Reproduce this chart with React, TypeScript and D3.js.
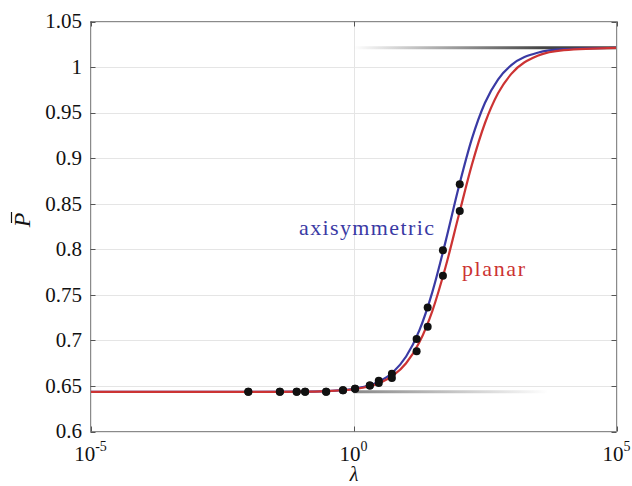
import React from "react";
import * as d3 from "d3";

const WIDTH = 632;
const HEIGHT = 486;

// Axis ticks
const yTickValues = [0.6, 0.65, 0.7, 0.75, 0.8, 0.85, 0.9, 0.95, 1, 1.05];
const yTickLabels = ["0.6", "0.65", "0.7", "0.75", "0.8", "0.85", "0.9", "0.95", "1", "1.05"];
const xTickExponents = [-5, 0, 5];

// Model curves, sampled in log10(lambda)
const curveLogLambda = [-5, -2, -1, -0.5, 0, 0.25, 0.5, 0.75, 1, 1.25, 1.5, 1.75, 2, 2.25, 2.5, 2.75, 3, 3.5, 4, 5];
const axisymmetricCurve = [
  0.6435, 0.6435, 0.6438, 0.6444, 0.6468, 0.6498, 0.6552, 0.6651, 0.6823, 0.7107,
  0.7533, 0.8084, 0.868, 0.9211, 0.9608, 0.9866, 1.0021, 1.0157, 1.0196, 1.0212,
];
const planarCurve = [
  0.6435, 0.6435, 0.6437, 0.6444, 0.6464, 0.6489, 0.6533, 0.6612, 0.6749, 0.6976,
  0.7325, 0.7805, 0.837, 0.8926, 0.9386, 0.9715, 0.9925, 1.0123, 1.0186, 1.0211,
];

// Simulation samples
const sampleLogLambda = [-2.0, -1.4, -1.08, -0.92, -0.52, -0.2, 0.03, 0.31, 0.48, 0.73, 1.2, 1.41, 1.7, 2.02];
const axisymmetricSamples = [
  0.6435, 0.6435, 0.6435, 0.6435, 0.6435, 0.6452, 0.647, 0.6504, 0.6558, 0.6635, 0.7015, 0.736, 0.799, 0.8715,
];
const planarSamples = [
  0.6435, 0.6435, 0.6435, 0.6435, 0.6435, 0.6452, 0.647, 0.6504, 0.6533, 0.6588, 0.688, 0.715, 0.771, 0.842,
];

// Asymptotic limits
const upperLimit = 1.0212;
const lowerLimit = 0.6435;

const BLUE = "#3a3aa4";
const RED = "#cc3333";
const textStyle = { fontFamily: "Liberation Serif" };

export default function App() {
  const left = 90.5;
  const right = 616.5;
  const top = 21.5;
  const bottom = 431.5;

  const x = d3.scaleLog().domain([1e-5, 1e5]).range([left, right]);
  const y = d3.scaleLinear().domain([0.6, 1.05]).range([bottom, top]);

  const line = d3
    .line<[number, number]>()
    .x((d) => x(Math.pow(10, d[0])))
    .y((d) => y(d[1]))
    .curve(d3.curveMonotoneX);

  const blueData = curveLogLambda.map((l, i) => [l, axisymmetricCurve[i]] as [number, number]);
  const redData = curveLogLambda.map((l, i) => [l, planarCurve[i]] as [number, number]);

  const dots: { l: number; v: number }[] = [];
  sampleLogLambda.forEach((l, i) => {
    dots.push({ l, v: axisymmetricSamples[i] });
    dots.push({ l, v: planarSamples[i] });
  });

  const tickLen = 5;
  const axisColor = "#8a8a8a";
  const gridColor = "#e5e5e5";

  return (
    <svg
      width={WIDTH}
      height={HEIGHT}
      style={{ position: "absolute", left: 0, top: 0, background: "#fff" }}
    >
      <defs>
        <linearGradient id="upperFade" gradientUnits="userSpaceOnUse" x1={x(1)} x2={x(Math.pow(10, 3.6))} y1={0} y2={0}>
          <stop offset="0" stopColor="#444" stopOpacity={0} />
          <stop offset="1" stopColor="#444" stopOpacity={1} />
        </linearGradient>
        <linearGradient id="lowerFade" gradientUnits="userSpaceOnUse" x1={x(1)} x2={x(Math.pow(10, 3.7))} y1={0} y2={0}>
          <stop offset="0" stopColor="#888" stopOpacity={1} />
          <stop offset="1" stopColor="#888" stopOpacity={0} />
        </linearGradient>
      </defs>

      {/* grid */}
      {yTickValues.map((v) => (
        <line key={"gy" + v} x1={left} x2={right} y1={Math.round(y(v)) + 0.5} y2={Math.round(y(v)) + 0.5} stroke={gridColor} strokeWidth={1} />
      ))}
      {xTickExponents.map((e) => (
        <line key={"gx" + e} x1={Math.round(x(Math.pow(10, e))) + 0.5} x2={Math.round(x(Math.pow(10, e))) + 0.5} y1={top} y2={bottom} stroke={gridColor} strokeWidth={1} />
      ))}

      {/* asymptote guides */}
      <line x1={x(1)} x2={right} y1={y(upperLimit)} y2={y(upperLimit)} stroke="url(#upperFade)" strokeWidth={3} />
      <line x1={x(1)} x2={x(Math.pow(10, 3.7))} y1={y(lowerLimit)} y2={y(lowerLimit)} stroke="url(#lowerFade)" strokeWidth={3} />

      {/* curves */}
      <path d={line(blueData) || ""} fill="none" stroke={BLUE} strokeWidth={2.2} />
      <path d={line(redData) || ""} fill="none" stroke={RED} strokeWidth={2.2} />

      {/* samples */}
      {dots.map((d, i) => (
        <circle key={"d" + i} cx={x(Math.pow(10, d.l))} cy={y(d.v)} r={4} fill="#111" />
      ))}

      {/* axes box */}
      <rect x={left} y={top} width={right - left} height={bottom - top} fill="none" stroke={axisColor} strokeWidth={1} />
      {yTickValues.map((v) => {
        const yy = Math.round(y(v)) + 0.5;
        return (
          <g key={"ty" + v}>
            <line x1={left} x2={left + tickLen} y1={yy} y2={yy} stroke="#555" />
            <line x1={right} x2={right - tickLen} y1={yy} y2={yy} stroke="#555" />
          </g>
        );
      })}
      {xTickExponents.map((e) => {
        const xx = Math.round(x(Math.pow(10, e))) + 0.5;
        return (
          <g key={"tx" + e}>
            <line x1={xx} x2={xx} y1={bottom} y2={bottom - tickLen} stroke="#555" />
            <line x1={xx} x2={xx} y1={top} y2={top + tickLen} stroke="#555" />
          </g>
        );
      })}

      {/* y tick labels */}
      {yTickValues.map((v, i) => (
        <text key={"ly" + v} x={82} y={y(v) + 6.8} textAnchor="end" fontSize={21} fill="#111" style={textStyle}>
          {yTickLabels[i]}
        </text>
      ))}

      {/* x tick labels */}
      {xTickExponents.map((e) => (
        <text key={"lx" + e} x={x(Math.pow(10, e))} y={460.5} textAnchor="middle" fontSize={21} fill="#111" style={textStyle}>
          <tspan>10</tspan>
          <tspan dy={-10} fontSize={14}>{String(e)}</tspan>
        </text>
      ))}

      {/* axis titles */}
      <text x={354} y={481} textAnchor="middle" fontSize={20} fontStyle="italic" fill="#111" style={textStyle}>
        λ
      </text>
      <g transform="translate(30,220) rotate(-90)">
        <text x={0} y={0} textAnchor="middle" fontSize={24} fontStyle="italic" fill="#111" style={textStyle}>
          P
        </text>
        <line x1={-3} x2={8} y1={-18.5} y2={-18.5} stroke="#111" strokeWidth={1.2} />
      </g>

      {/* curve labels */}
      <text x={299} y={235} fontSize={22} fill={BLUE} textLength={135} lengthAdjust="spacing" style={textStyle}>
        axisymmetric
      </text>
      <text x={462} y={276} fontSize={22} fill={RED} textLength={63} lengthAdjust="spacing" style={textStyle}>
        planar
      </text>
    </svg>
  );
}
